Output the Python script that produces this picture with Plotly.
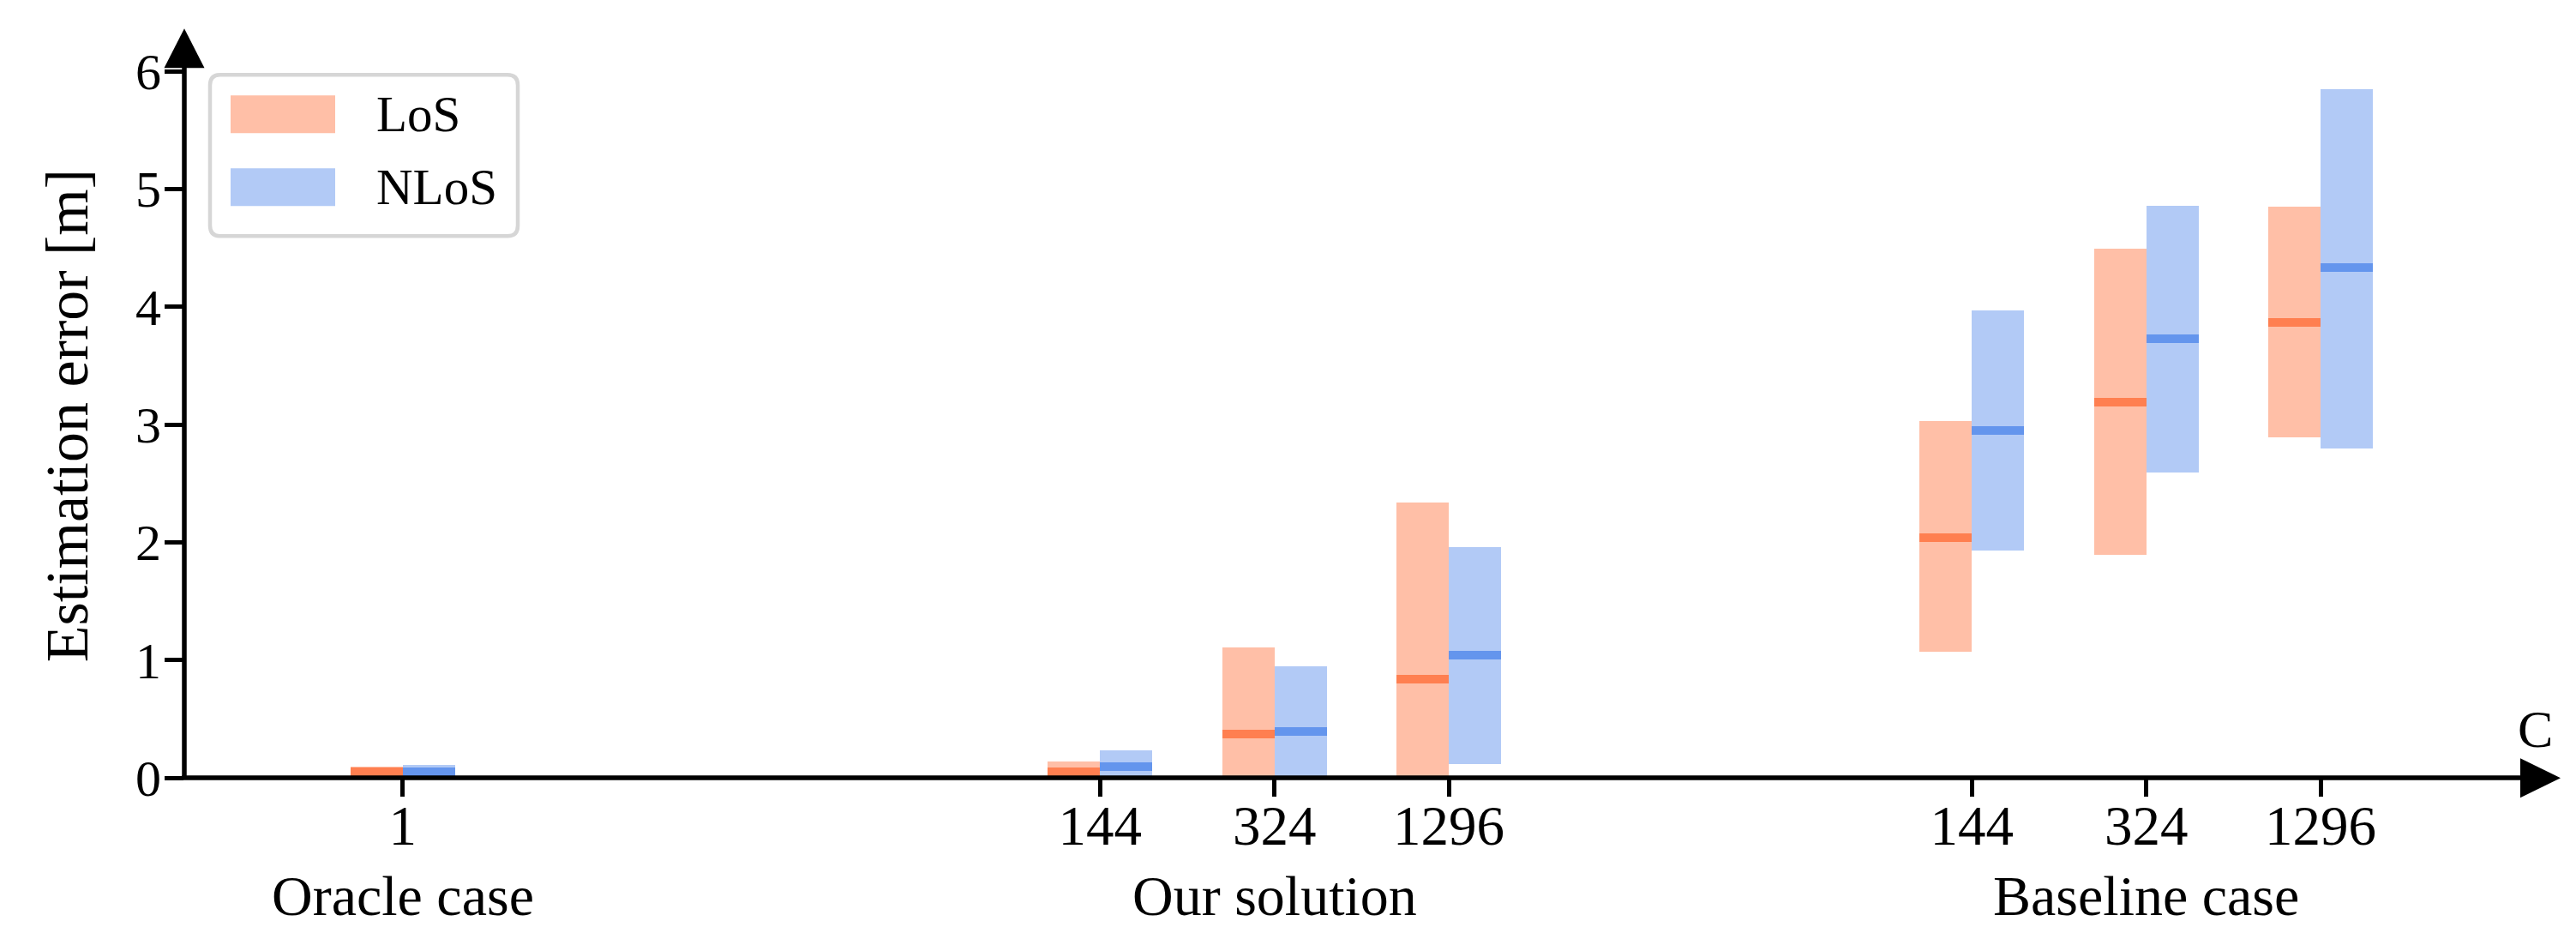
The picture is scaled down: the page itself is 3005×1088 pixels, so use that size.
import plotly.graph_objects as go

# ---------------- data ----------------
groups = ["Oracle case", "Our solution", "Baseline case"]
group_C = [["1"], ["144", "324", "1296"], ["144", "324", "1296"]]

los_low = [0.0, 0.0, 0.0, 0.0, 1.07, 1.89, 2.89]
los_med = [0.05, 0.05, 0.37, 0.84, 2.04, 3.19, 3.87]
los_high = [0.095, 0.136, 1.11, 2.335, 3.03, 4.49, 4.85]

nlos_low = [0.0, 0.0, 0.0, 0.117, 1.93, 2.59, 2.80]
nlos_med = [0.05, 0.092, 0.39, 1.04, 2.95, 3.73, 4.33]
nlos_high = [0.11, 0.231, 0.95, 1.956, 3.97, 4.86, 5.85]

y_ticks = [0, 1, 2, 3, 4, 5, 6]

# ---------------- layout helpers ----------------
GROUP_GAP = [0, 4, 3]          # spacing (in slots) before each group
pos, labels, centers = [], [], []
cur = 0
for gi, cs in enumerate(group_C):
    cur += GROUP_GAP[gi] if gi > 0 else 0
    gpos = []
    for k, c in enumerate(cs):
        if k > 0:
            cur += 1
        gpos.append(cur)
        labels.append(c)
    pos.extend(gpos)
    centers.append(sum(gpos) / len(gpos))

W_FIG, H_FIG = 3005, 1088
L, R, T, B = 207, 2932, 70.7, 898.7
PW, PH = R - L, B - T
XR = [-1.252, 12.145]
YR = [0, 6.03]
BAR_W = 0.3
BAND = 0.073
FONT = "Liberation Serif, Times New Roman, serif"

def px(x):
    return (x - L) / PW

def py(y):
    return (B - y) / PH

LOS_LIGHT = "#FFBFA7"
LOS_DARK = "#FF7F50"
NLOS_LIGHT = "#B2CAF6"
NLOS_DARK = "#6495ED"

fig = go.Figure()

def add_series(low, med, high, light, dark, offset, name):
    fig.add_trace(go.Bar(
        x=pos, y=[h - l for h, l in zip(high, low)], base=low,
        width=BAR_W, offset=offset, marker=dict(color=light, line=dict(width=0)),
        name=name, showlegend=False, hoverinfo="skip"))
    fig.add_trace(go.Bar(
        x=pos, y=[BAND] * len(med), base=[m - BAND / 2 for m in med],
        width=BAR_W, offset=offset, marker=dict(color=dark, line=dict(width=0)),
        name=name + " median", showlegend=False, hoverinfo="skip"))

add_series(los_low, los_med, los_high, LOS_LIGHT, LOS_DARK, -BAR_W, "LoS")
add_series(nlos_low, nlos_med, nlos_high, NLOS_LIGHT, NLOS_DARK, 0, "NLoS")

shapes = []
# axis lines
shapes.append(dict(type="line", xref="paper", yref="paper", x0=px(L - 2.75), x1=px(2935), y0=0, y1=0,
                   line=dict(color="black", width=5.5)))
shapes.append(dict(type="line", xref="paper", yref="paper", x0=0, x1=0, y0=0, y1=py(67),
                   line=dict(color="black", width=5.5)))
# arrow heads
def tri(pts):
    p = "M " + " L ".join(f"{px(a):.6f},{py(b):.6f}" for a, b in pts) + " Z"
    return dict(type="path", xref="paper", yref="paper", path=p,
                fillcolor="black", line=dict(width=0))
shapes.append(tri([(207, 25), (183.5, 71), (230.5, 71)]))
shapes.append(tri([(2979, 899), (2932, 876), (2932, 922)]))

# legend (manual)
def rrect(x0, y0, x1, y1, r):
    X0, X1 = px(x0), px(x1)
    Y0, Y1 = py(y0), py(y1)
    rx, ry = r / PW, r / PH
    p = (f"M {X0+rx},{Y0} L {X1-rx},{Y0} Q {X1},{Y0} {X1},{Y0-ry} "
         f"L {X1},{Y1+ry} Q {X1},{Y1} {X1-rx},{Y1} L {X0+rx},{Y1} "
         f"Q {X0},{Y1} {X0},{Y1+ry} L {X0},{Y0-ry} Q {X0},{Y0} {X0+rx},{Y0} Z")
    return dict(type="path", xref="paper", yref="paper", path=p,
                fillcolor="rgba(255,255,255,0.8)", line=dict(color="#D6D6D6", width=4.5))
shapes.append(rrect(237, 79, 596, 267, 12))
for (ya, yb), col in [((103, 147), LOS_LIGHT), ((188, 232), NLOS_LIGHT)]:
    shapes.append(dict(type="rect", xref="paper", yref="paper", x0=px(261), x1=px(383),
                       y0=py(yb), y1=py(ya), fillcolor=col, line=dict(width=0)))

annotations = []
for txt, yc in [("LoS", 125), ("NLoS", 210)]:
    annotations.append(dict(text=txt, xref="paper", yref="paper", x=px(429), y=py(yc),
                            xanchor="left", yanchor="middle", showarrow=False,
                            font=dict(family=FONT, size=59, color="black")))
for g, c in zip(groups, centers):
    annotations.append(dict(text=g, xref="x", yref="paper", x=c, y=py(1036),
                            xanchor="center", yanchor="middle", showarrow=False,
                            font=dict(family=FONT, size=66, color="black")))
annotations.append(dict(text="C", xref="paper", yref="paper", x=px(2949), y=py(842),
                        xanchor="center", yanchor="middle", showarrow=False,
                        font=dict(family=FONT, size=62, color="black")))
annotations.append(dict(text="Estimation error [m]", xref="paper", yref="paper",
                        x=px(70), y=py(477), xanchor="center", yanchor="middle",
                        textangle=-90, showarrow=False,
                        font=dict(family=FONT, size=70, color="black")))

fig.update_layout(
    template="none",
    width=W_FIG, height=H_FIG,
    margin=dict(l=L, r=W_FIG - R, t=T, b=H_FIG - B, pad=0),
    paper_bgcolor="white", plot_bgcolor="white",
    barmode="overlay", bargap=0,
    shapes=shapes, annotations=annotations,
    showlegend=False,
    font=dict(family=FONT, color="black"),
)
fig.update_xaxes(range=XR, tickmode="array", tickvals=pos, ticktext=labels,
                 ticks="outside", ticklen=21, tickwidth=5, tickcolor="black",
                 showline=False, showgrid=False, zeroline=False, automargin=False,
                 ticklabelstandoff=-22,
                 tickfont=dict(family=FONT, size=65, color="black"))
fig.update_yaxes(range=YR, tickmode="array", tickvals=y_ticks,
                 ticks="outside", ticklen=22, tickwidth=5, tickcolor="black",
                 showline=False, showgrid=False, zeroline=False, automargin=False,
                 ticklabelstandoff=-8,
                 tickfont=dict(family=FONT, size=60, color="black"))

fig.write_html("out.html")
